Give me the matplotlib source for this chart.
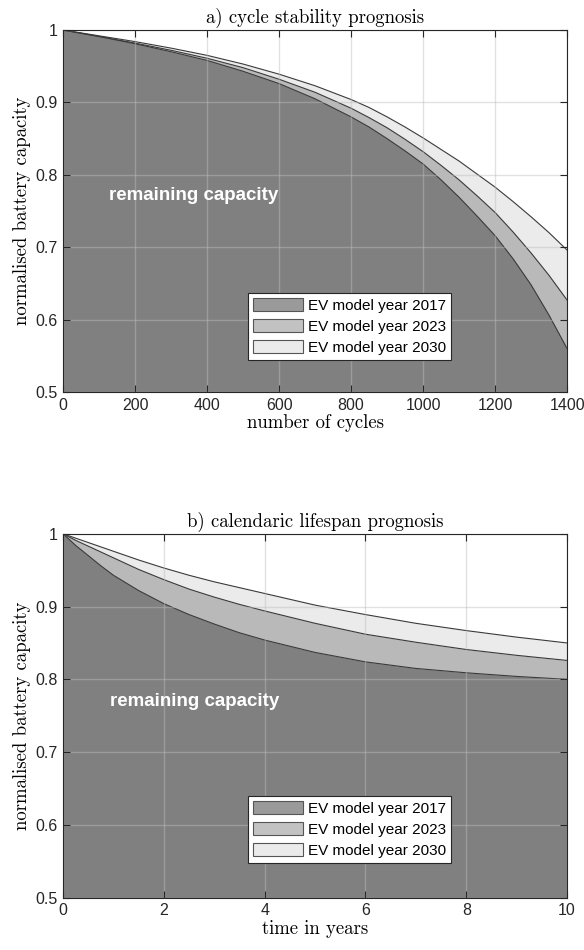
import numpy as np
import matplotlib
matplotlib.use("Agg")
import matplotlib.pyplot as plt
from matplotlib.patches import Patch

# cycle stability prognosis (normalised capacity vs. number of cycles)
cycles = [0, 100, 200, 300, 400, 500, 600, 700, 800, 850, 900, 950, 1000, 1050, 1100,
          1150, 1200, 1250, 1300, 1350, 1400]
cyc_2017 = [1.0, 0.991, 0.981, 0.970, 0.958, 0.943, 0.926, 0.905, 0.880, 0.866, 0.850, 0.833,
            0.815, 0.793, 0.769, 0.743, 0.716, 0.684, 0.648, 0.606, 0.560]
cyc_2023 = [1.0, 0.991, 0.982, 0.972, 0.961, 0.948, 0.932, 0.914, 0.892, 0.879, 0.865, 0.849,
            0.832, 0.813, 0.793, 0.771, 0.748, 0.721, 0.692, 0.661, 0.627]
cyc_2030 = [1.0, 0.992, 0.984, 0.975, 0.965, 0.953, 0.939, 0.923, 0.904, 0.893, 0.880, 0.866,
            0.851, 0.835, 0.819, 0.801, 0.783, 0.763, 0.742, 0.720, 0.696]

# calendaric lifespan prognosis (normalised capacity vs. years)
years = [0, 0.25, 0.5, 0.75, 1, 1.5, 2, 2.5, 3, 3.5, 4, 5, 6, 7, 8, 9, 10]
cal_2017 = [1.0, 0.984, 0.970, 0.956, 0.943, 0.922, 0.904, 0.889, 0.876, 0.864, 0.854, 0.837,
            0.824, 0.815, 0.809, 0.804, 0.800]
cal_2023 = [1.0, 0.991, 0.983, 0.975, 0.967, 0.951, 0.937, 0.924, 0.913, 0.903, 0.894, 0.877,
            0.862, 0.851, 0.841, 0.833, 0.826]
cal_2030 = [1.0, 0.994, 0.988, 0.982, 0.976, 0.964, 0.953, 0.943, 0.934, 0.926, 0.918, 0.902,
            0.889, 0.877, 0.867, 0.858, 0.850]

labels = ['EV model year 2017', 'EV model year 2023', 'EV model year 2030']
yticks = [0.5, 0.6, 0.7, 0.8, 0.9, 1.0]
ytick_labels = ['0.5', '0.6', '0.7', '0.8', '0.9', '1']

fill_cols = ['#808080', '#b9b9b9', '#ebebeb']
legend_cols = ['#9a9a9a', '#c2c2c2', '#ebebeb']
edge_col = '#3a3a3a'

serif = dict(family='cmr10', size=13.5)
sans = ['Liberation Sans', 'DejaVu Sans']
plt.rcParams['font.family'] = sans
plt.rcParams['axes.unicode_minus'] = False


def draw_panel(ax, x, y17, y23, y30, xticks, title, xlabel, text_xy, leg_xy):
    # layered fills: lightest first, darkest on top
    for y, c in zip([y30, y23, y17], fill_cols[::-1]):
        ax.fill_between(x, 0.5, y, color=c, lw=0, zorder=1)
        ax.plot(x, y, color=edge_col, lw=0.8, zorder=2)

    ax.set_xlim(x[0], x[-1])
    ax.set_ylim(0.5, 1.0)
    ax.set_xticks(xticks)
    ax.set_yticks(yticks)
    ax.set_yticklabels(ytick_labels)
    ax.grid(True, color='#bdbdbd', alpha=0.45, lw=1.0, zorder=3)
    ax.set_axisbelow(False)
    ax.tick_params(direction='in', top=True, right=True, length=5, width=0.8,
                   labelsize=11.5, colors='#262626', pad=4)
    for s in ax.spines.values():
        s.set_color('#262626')
        s.set_linewidth(0.8)
        s.set_zorder(5)

    ax.set_title(title, fontdict=serif, pad=5)
    ax.set_xlabel(xlabel, fontdict=serif, labelpad=1)
    ax.set_ylabel('normalised battery capacity', fontdict=serif, labelpad=3)

    ax.text(text_xy[0], text_xy[1], 'remaining capacity', color='white',
            fontsize=13.5, fontweight='bold', ha='left', va='center', zorder=4)

    handles = [Patch(facecolor=c, edgecolor='#555555', lw=0.8) for c in legend_cols]
    leg = ax.legend(handles, labels, loc='lower left', bbox_to_anchor=leg_xy,
                    fontsize=11, handlelength=3.3, handleheight=0.95,
                    labelspacing=0.4, handletextpad=0.3, borderpad=0.35,
                    borderaxespad=0, fancybox=False, framealpha=1,
                    edgecolor='#262626')
    leg.get_frame().set_linewidth(0.8)
    leg.set_zorder(6)


fig = plt.figure(figsize=(5.84, 9.5), dpi=100)
ax1 = fig.add_axes([0.108, 0.5874, 0.863, 0.381])
ax2 = fig.add_axes([0.108, 0.0551, 0.863, 0.383])

draw_panel(ax1, cycles, cyc_2017, cyc_2023, cyc_2030, [0, 200, 400, 600, 800, 1000, 1200, 1400],
           'a) cycle stability prognosis', 'number of cycles', (128, 0.772), (0.366, 0.088))
draw_panel(ax2, years, cal_2017, cal_2023, cal_2030, [0, 2, 4, 6, 8, 10],
           'b) calendaric lifespan prognosis', 'time in years', (0.93, 0.769), (0.366, 0.095))

fig.savefig('out.png', dpi=100, facecolor='white')
